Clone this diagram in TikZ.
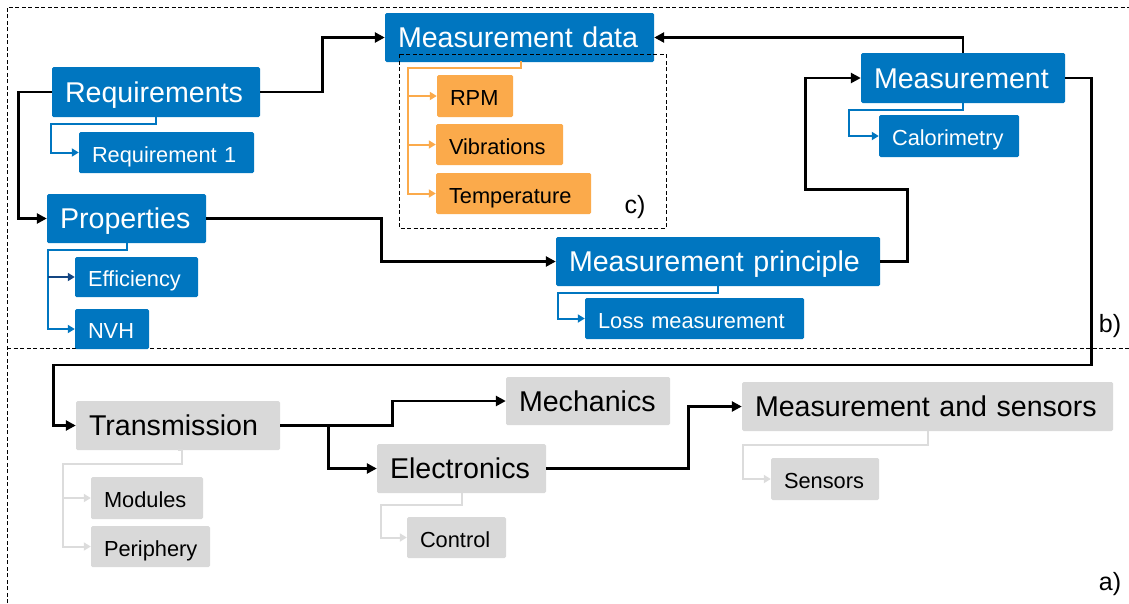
\documentclass[tikz,border=0pt]{standalone}
\usepackage{fontspec}
\setmainfont{Liberation Sans}
\usetikzlibrary{arrows.meta}
\definecolor{myblue}{RGB}{0,118,192}
\definecolor{navy}{RGB}{20,70,130}
\definecolor{myorange}{RGB}{251,170,75}
\definecolor{mygray}{RGB}{217,217,217}
\definecolor{linegray}{RGB}{220,220,220}
\tikzset{
  box/.style={rectangle, rounded corners=1.5pt, inner xsep=13pt, inner ysep=0pt, align=left, text depth=0pt},
  big/.style={font=\fontsize{28.6}{30}\selectfont, text height=20.5pt},
  small/.style={font=\fontsize{21.8}{24}\selectfont, text height=19.4pt},
  bluebox/.style={box, fill=myblue, text=white},
  orangebox/.style={box, fill=myorange, text=black},
  graybox/.style={box, fill=mygray, text=black},
  conn/.style={line width=2.8pt, draw=black, -{Triangle[length=10pt,width=10pt]}},
  sub/.style={line width=2pt, -{Triangle[length=7pt,width=8pt]}},
  border/.style={line width=0.8pt, dash pattern=on 4pt off 2.5pt},
  lbl/.style={font=\fontsize{25}{27}\selectfont, text=black, inner sep=0pt}
}
\begin{document}
\begin{tikzpicture}[x=1pt,y=-1pt]
\useasboundingbox (0,0) rectangle (1129,603);
% section borders
\draw[border] (7,603) -- (7,7) -- (1129,7);
\draw[border] (7,348) -- (1129,348);

% blue nodes (part b)
\node[bluebox,big,text width=182pt,minimum height=50pt] (req) at (156,92) {Requirements};
\node[bluebox,small,text width=149pt,minimum height=41pt] (req1) at (166.5,152.5) {Requirement 1};
\node[bluebox,big,text width=133pt,minimum height=49pt] (prop) at (126.5,218.5) {Properties};
\node[bluebox,small,text width=97pt,minimum height=40pt] (eff) at (136.5,277) {Efficiency};
\node[bluebox,small,text width=48pt,minimum height=40pt] (nvh) at (112,329) {NVH};
\node[bluebox,big,text width=243pt,minimum height=49pt] (mdata) at (519.5,37.5) {Measurement data};
\node[bluebox,big,text width=178pt,minimum height=50pt] (meas) at (963,78) {Measurement};
\node[bluebox,small,text width=114pt,minimum height=42pt] (calo) at (949,136) {Calorimetry};
\node[bluebox,big,text width=298pt,minimum height=49pt] (mprin) at (718,261.5) {Measurement principle};
\node[bluebox,small,text width=193pt,minimum height=41pt] (loss) at (694.5,318.5) {Loss measurement};

% orange nodes (part c)
\node[orangebox,small,text width=50pt,minimum height=42pt] (rpm) at (475,96) {RPM};
\node[orangebox,small,text width=101pt,minimum height=41pt] (vib) at (499.5,144.5) {Vibrations};
\node[orangebox,small,text width=129pt,minimum height=41pt] (temp) at (513.5,193.5) {Temperature};

% gray nodes (part a)
\node[graybox,big,text width=178pt,minimum height=49pt] (trans) at (178,425.5) {Transmission};
\node[graybox,small,text width=86pt,minimum height=42pt] (mod) at (147,498) {Modules};
\node[graybox,small,text width=93pt,minimum height=41pt] (peri) at (150.5,546.5) {Periphery};
\node[graybox,big,text width=138pt,minimum height=48pt] (mech) at (588,401) {Mechanics};
\node[graybox,big,text width=143pt,minimum height=49pt] (elec) at (461.5,468.5) {Electronics};
\node[graybox,small,text width=73pt,minimum height=41pt] (ctrl) at (456.5,537.5) {Control};
\node[graybox,big,text width=345pt,minimum height=49pt] (mands) at (927.5,406.5) {Measurement and sensors};
\node[graybox,small,text width=82pt,minimum height=42pt] (sens) at (825,479) {Sensors};

% main connectors
\draw[conn] (req.west) -- ++(-33,0) |- (prop.west);
\draw[conn] (req.east) -- ++(62,0) |- (mdata.west);
\draw[conn] (prop.east) -- ++(175,0) |- (mprin.west);
\draw[conn] (mprin.east) -- ++(27,0) -- ++(0,-72) -- ++(-102,0) |- (meas.west);
\draw[conn] (meas.north) |- (mdata.east);
\draw[conn] (meas.east) -- ++(26,0) -- ++(0,287) -- ++(-1038,0) |- (trans.west);
\draw[conn] (trans.east) -- ++(112,0) |- (mech.west);
\draw[conn] (trans.east) -- ++(48,0) |- (elec.west);
\draw[conn] (elec.east) -- ++(142,0) |- (mands.west);

% sub connectors blue
\draw[sub,myblue] (req.south) -- ++(0,7) -- ++(-105,0) |- (req1.west);
\draw[sub,myblue] (prop.south) -- ++(0,7) -- ++(-79,0) coordinate (pj) |- (nvh.west);
\draw[sub,navy] (pj |- eff.west) -- (eff.west);
\draw[sub,myblue] (meas.south) -- ++(0,7) -- ++(-114,0) |- (calo.west);
\draw[sub,myblue] (mprin.south) -- ++(0,7) -- ++(-160,0) |- (loss.west);
% orange
\draw[sub,myorange] (mdata.south) -- ++(1.5,0) -- ++(0,6) -- ++(-113.5,0) coordinate (oj) |- (temp.west);
\draw[sub,myorange] (oj |- rpm.west) -- (rpm.west);
\draw[sub,myorange] (oj |- vib.west) -- (vib.west);
% gray
\draw[sub,linegray] (trans.south) -- ++(4,0) -- ++(0,14) -- ++(-119,0) coordinate (tj) |- (peri.west);
\draw[sub,linegray] (tj |- mod.west) -- (mod.west);
\draw[sub,linegray] (elec.south) -- ++(0,12) -- ++(-81,0) |- (ctrl.west);
\draw[sub,linegray] (mands.south) -- ++(0,14) -- ++(-185,0) |- (sens.west);

% dashed box c)
\draw[border] (399,54) rectangle (666,228);

% labels
\node[lbl] (lc) at (635,207) {c)};
\node[lbl] (lb) at (1110,326) {b)};
\node[lbl] (la) at (1110,584) {a)};
\end{tikzpicture}
\end{document}
